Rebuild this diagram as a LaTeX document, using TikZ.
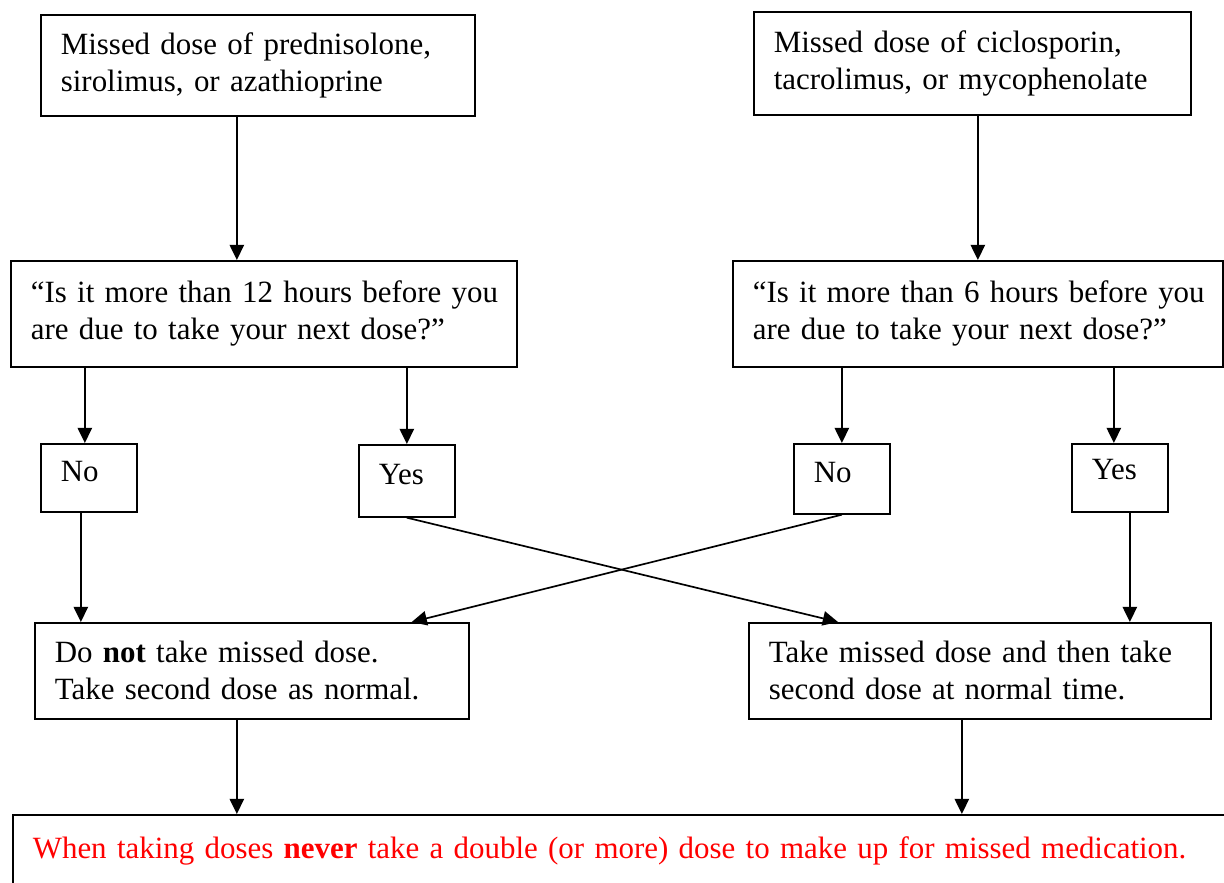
\documentclass[tikz,border=0pt]{standalone}
\usepackage{fontspec}
\setmainfont{Liberation Serif}
\usepackage{xcolor}
\usepackage{tikz}
\usetikzlibrary{arrows.meta}
\definecolor{warnred}{HTML}{FF0000}
\newcommand{\doseFont}{\fontsize{22}{26.2}\selectfont}

\tikzset{
  dosebox/.style={draw, line width=1.2pt, anchor=north west, align=left,
                  inner xsep=5mm, inner ysep=0pt},
  flow/.style={-{Triangle[length=3.8mm,width=3.6mm]}, line width=1.2pt},
}

\begin{document}
\begin{tikzpicture}[font=\doseFont]
  \useasboundingbox (0,0) rectangle (30.6,-22.05);
  % first row: which drug was missed
  \node[dosebox, text width=9.85cm, minimum height=2.525cm]
        (missA) at (1.0,-0.35) {Missed dose of prednisolone,\\sirolimus, or azathioprine};
  \node[dosebox, text width=9.925cm, minimum height=2.575cm]
        (missB) at (18.825,-0.275) {Missed dose of ciclosporin,\\tacrolimus, or mycophenolate};
  % the question
  \node[dosebox, text width=11.65cm, minimum height=2.65cm]
        (askA) at (0.25,-6.5) {\mbox{“Is it more than 12 hours before you}\\are due to take your next dose?”};
  \node[dosebox, text width=11.25cm, minimum height=2.65cm]
        (askB) at (18.3,-6.5) {\mbox{“Is it more than 6 hours before you}\\are due to take your next dose?”};
  % answers
  \foreach \nm/\x/\y/\h/\b/\lab in {
     noA/1.0/-11.075/1.7/0.93/No,
     yesA/8.95/-11.1/1.8/0.98/Yes,
     noB/19.825/-11.075/1.75/0.96/No,
     yesB/26.775/-11.075/1.7/0.9/Yes} {
    \node[dosebox, text width=1.4cm, minimum height=\h cm,
          text height=\b cm, text depth=\h cm-\b cm] (\nm) at (\x,\y) {\lab};
  }
  % what to do
  \node[dosebox, text width=9.85cm, minimum height=2.4cm]
        (skip) at (0.85,-15.55) {Do \textbf{not} take missed dose.\\Take second dose as normal.};
  \node[dosebox, text width=10.55cm, minimum height=2.4cm]
        (take) at (18.7,-15.55) {Take missed dose and then take\\second dose at normal time.};
  \node[dosebox, text width=30cm, minimum height=1.8cm, text=warnred]
        (never) at (0.3,-20.35) {When taking doses \textbf{never} take a double (or more) dose to make up for missed medication.};

  \coordinate (pA)   at ([xshift=-5.25mm]missA.south);
  \coordinate (pN1)  at ([xshift=-1mm]noA.north);
  \coordinate (pY2)  at ([xshift=-1.5mm]yesB.north);
  \coordinate (pN1b) at ([xshift=-2mm]noA.south);
  \coordinate (pY2b) at ([xshift=2.5mm]yesB.south);
  \coordinate (pE)   at ([xshift=-3.75mm]skip.south);
  \coordinate (pF)   at ([xshift=-4.5mm]take.south);

  \draw[flow] (pA) -- (pA |- askA.north);
  \draw[flow] (askB.north |- missB.south) -- (askB.north);
  \draw[flow] (pN1 |- askA.south) -- (pN1);
  \draw[flow] (yesA.north |- askA.south) -- (yesA.north);
  \draw[flow] (noB.north |- askB.south) -- (noB.north);
  \draw[flow] (pY2 |- askB.south) -- (pY2);
  \draw[flow] (pN1b) -- (pN1b |- skip.north);
  \draw[flow] (yesA.south) -- ([xshift=2.25cm]take.north west);
  \draw[flow] (noB.south) -- ([xshift=-1.45cm]skip.north east);
  \draw[flow] (pY2b) -- (pY2b |- take.north);
  \draw[flow] (pE) -- (pE |- never.north);
  \draw[flow] (pF) -- (pF |- never.north);
\end{tikzpicture}
\end{document}
